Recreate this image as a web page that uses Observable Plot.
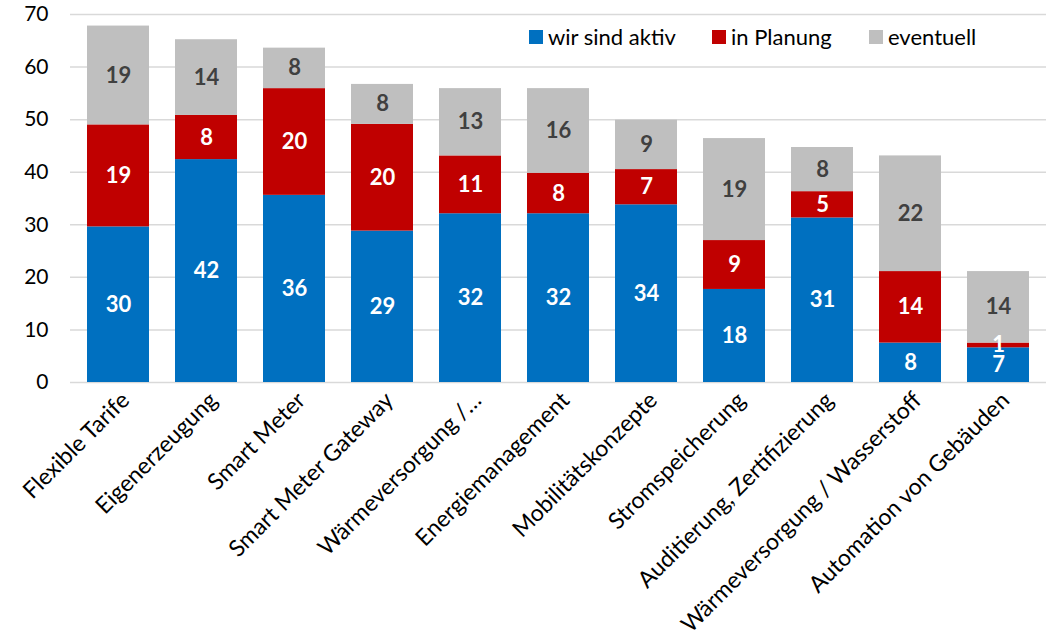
<!DOCTYPE html>
<html>
<head>
<meta charset="utf-8">
<script src="https://cdn.jsdelivr.net/npm/d3@7"></script>
<script src="https://cdn.jsdelivr.net/npm/@observablehq/plot@0.6"></script>
<style>
  body { margin: 0; background: #fff; }
  #wrap { position: relative; width: 1048px; height: 637px; font-family: Lato, "Open Sans", sans-serif; }
  .item { position: absolute; top: 23px; display: flex; align-items: center; font-size: 22px; color: #000; white-space: nowrap; }
  .sw { width: 14px; height: 14px; margin-right: 5px; display: inline-block; }
</style>
</head>
<body>
<div id="wrap">
  <div id="chart"></div>
  <div id="legend"></div>
</div>
<script>
const categories = [
  "Flexible Tarife", "Eigenerzeugung", "Smart Meter", "Smart Meter Gateway",
  "Wärmeversorgung /…", "Energiemanagement", "Mobilitätskonzepte", "Stromspeicherung",
  "Auditierung, Zertifizierung", "Wärmeversorgung / Wasserstoff", "Automation von Gebäuden"
];
const seriesNames = ["wir sind aktiv", "in Planung", "eventuell"];
const aktiv     = [29.6, 42.4, 35.6, 28.8, 32.1, 32.1, 33.8, 17.7, 31.3, 7.5, 6.6];
const planung   = [19.4, 8.4, 20.3, 20.3, 11.0, 7.7, 6.7, 9.3, 5.0, 13.6, 0.9];
const eventuell = [18.8, 14.4, 7.7, 7.6, 12.8, 16.1, 9.4, 19.4, 8.4, 22.0, 13.6];
const yTicks = [0, 10, 20, 30, 40, 50, 60, 70];

const colors = ["#0070C0", "#C00000", "#BFBFBF"];
const labelColors = ["#FFFFFF", "#FFFFFF", "#404040"];

const seriesValues = [aktiv, planung, eventuell];
const rows = [];
categories.forEach((cat, i) => {
  let base = 0;
  seriesValues.forEach((vals, s) => {
    const v = vals[i];
    rows.push({cat, series: seriesNames[s], y1: base, y2: base + v, mid: base + v / 2,
               label: String(Math.round(v)), labelColor: labelColors[s]});
    base += v;
  });
});

const chart = Plot.plot({
  width: 1048,
  height: 637,
  marginLeft: 70,
  marginRight: 2,
  marginTop: 14,
  marginBottom: 255,
  style: {fontFamily: "Lato, 'Open Sans', sans-serif", fontSize: "21px", color: "#000", background: "#fff"},
  x: {domain: categories, paddingInner: 0.29, paddingOuter: 0.145, label: null},
  y: {domain: [0, 70], label: null},
  color: {domain: seriesNames, range: colors},
  marks: [
    Plot.gridY(yTicks, {stroke: "#D9D9D9", strokeOpacity: 1, strokeWidth: 1.5}),
    Plot.barY(rows, {x: "cat", y1: "y1", y2: "y2", fill: "series"}),
    Plot.text(rows, {x: "cat", y: "mid", text: "label", fill: d => d.labelColor, fontWeight: "bold", fontSize: 22}),
    Plot.axisX({tickSize: 0, tickRotate: -45, tickPadding: 14, fontSize: 23, dx: 7}),
    Plot.axisY({ticks: yTicks, tickSize: 0, tickPadding: 22, fontSize: 21})
  ]
});
document.getElementById("chart").appendChild(chart);

const legendPos = [529, 712, 869];
const legend = document.getElementById("legend");
seriesNames.forEach((name, i) => {
  const item = document.createElement("div");
  item.className = "item";
  item.style.left = legendPos[i] + "px";
  const sw = document.createElement("span");
  sw.className = "sw";
  sw.style.background = colors[i];
  item.appendChild(sw);
  item.appendChild(document.createTextNode(name));
  legend.appendChild(item);
});
</script>
</body>
</html>
